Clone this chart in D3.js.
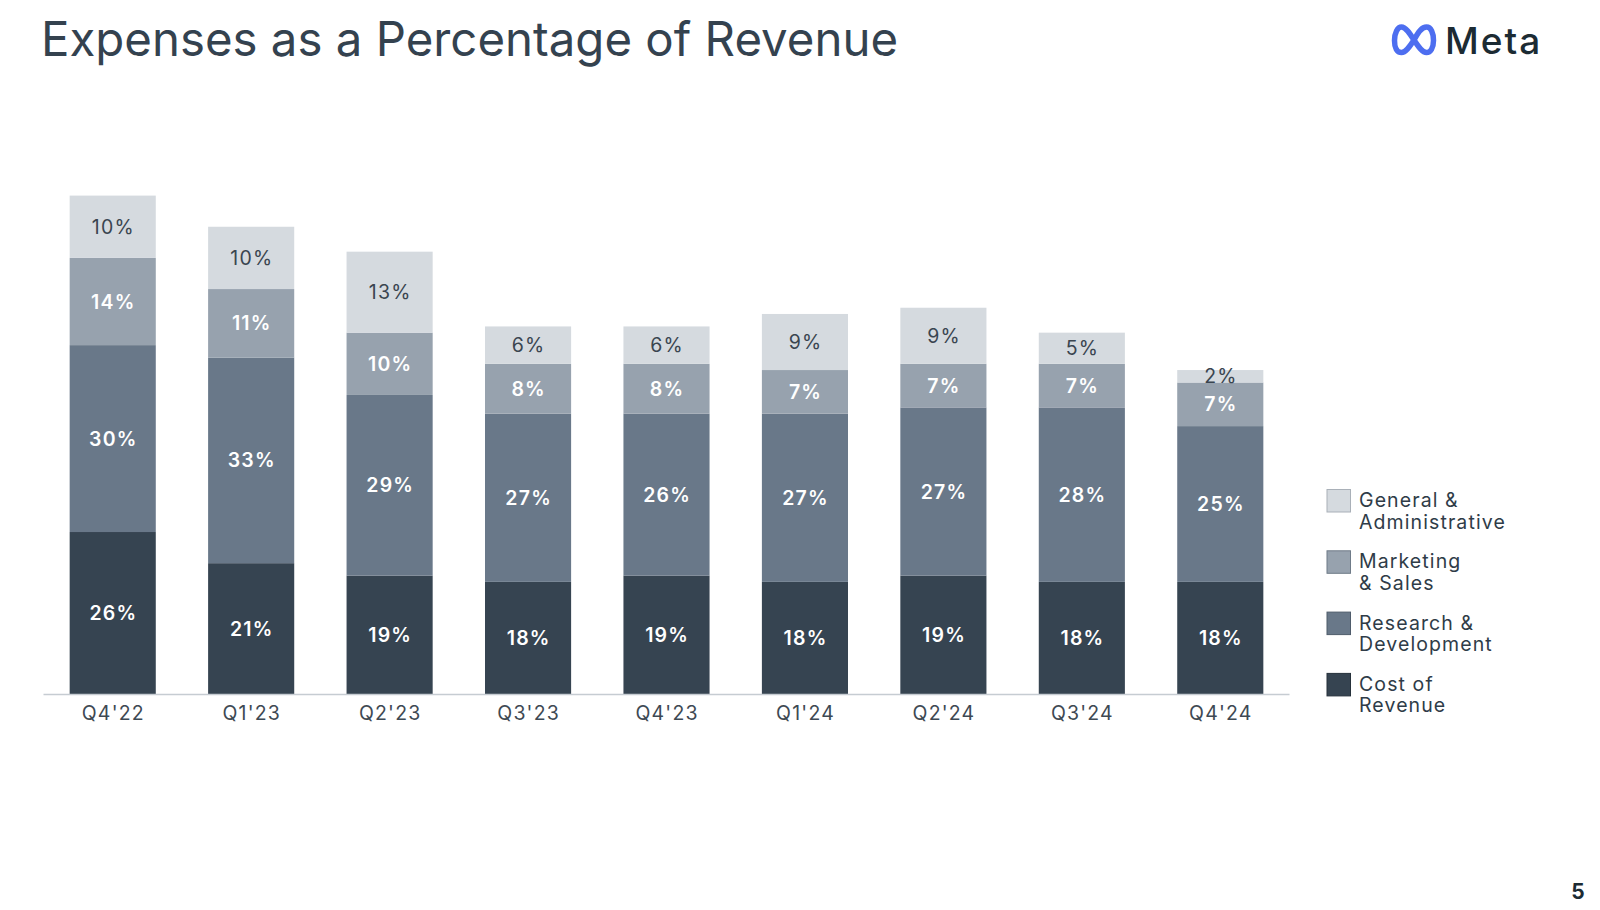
<!DOCTYPE html>
<html>
<head>
<meta charset="utf-8">
<script src="https://cdn.jsdelivr.net/npm/d3@7"></script>
<style>
  html, body { margin: 0; padding: 0; background: #ffffff; }
  svg { display: block; }
  text { font-family: Inter, "Noto Sans", sans-serif; }
</style>
</head>
<body>
<svg id="chart" width="1600" height="910"></svg>
<script>
// ---- data ----
const categories = ["Q4'22", "Q1'23", "Q2'23", "Q3'23", "Q4'23", "Q1'24", "Q2'24", "Q3'24", "Q4'24"];
const costOfRevenue = [26, 21, 19, 18, 19, 18, 19, 18, 18];
const researchDevelopment = [30, 33, 29, 27, 26, 27, 27, 28, 25];
const marketingSales = [14, 11, 10, 8, 8, 7, 7, 7, 7];
const generalAdmin = [10, 10, 13, 6, 6, 9, 9, 5, 2];
const seriesKeys = ["cor", "rd", "ms", "ga"];
const seriesNames = {
  cor: ["Cost of", "Revenue"],
  rd: ["Research &", "Development"],
  ms: ["Marketing", "& Sales"],
  ga: ["General &", "Administrative"]
};
const titleText = "Expenses as a Percentage of Revenue";

// ---- styles ----
const colors = { cor: "#364451", rd: "#697889", ms: "#97a2ae", ga: "#d5dadf" };
const strokeColors = { cor: "#26313b", rd: "#4f5c6b", ms: "#6f7b88", ga: "#a9b0b8" };
const labelColors = { cor: "#ffffff", rd: "#ffffff", ms: "#ffffff", ga: "#3a4550" };
const labelWeights = { cor: 600, rd: 600, ms: 600, ga: 400 };

const table = categories.map((c, i) => ({
  cat: c,
  cor: costOfRevenue[i],
  rd: researchDevelopment[i],
  ms: marketingSales[i],
  ga: generalAdmin[i]
}));

const svg = d3.select("#chart");

// title
const title = svg.append("text")
  .attr("x", 41).attr("y", 56)
  .attr("font-size", 48)
  .attr("fill", "#34424f")
  .text(titleText);
const tl = title.node().getComputedTextLength();
if (Math.abs(tl - 857) > 4) title.attr("textLength", 857).attr("lengthAdjust", "spacingAndGlyphs");

// Meta logo
const logo = svg.append("g").attr("transform", "translate(1392,24)");
logo.append("path")
  .attr("d", "M22,16 C26.5,7.5 30,3 34.5,3 C39,3 41.5,9 41.5,16.5 C41.5,24 38.5,28.5 34.5,28.5 C30.5,28.5 26.5,23 22,16 C17.5,9 13.5,3 9.5,3 C5.5,3 2.5,9 2.5,16.5 C2.5,24 5,28.5 9.5,28.5 C13.5,28.5 17.5,23 22,16 Z")
  .attr("fill", "none")
  .attr("stroke", "#4d6ef0")
  .attr("stroke-width", 5.5)
  .attr("stroke-linejoin", "round");
svg.append("text")
  .attr("x", 1445).attr("y", 54)
  .attr("font-size", 37)
  .attr("font-weight", 500)
  .attr("letter-spacing", 2)
  .attr("fill", "#1c2b33")
  .text("Meta");

// page number
svg.append("text")
  .attr("x", 1578).attr("y", 899)
  .attr("text-anchor", "middle")
  .attr("font-size", 21)
  .attr("font-weight", 700)
  .attr("fill", "#1c2b33")
  .text("5");

// scales
const x = d3.scaleBand()
  .domain(categories)
  .range([43.5, 1289.5])
  .paddingInner(0.378)
  .paddingOuter(0.189);
const y = d3.scaleLinear().domain([0, 80]).range([694, 195.6]);

const stack = d3.stack().keys(seriesKeys);
const stacked = stack(table);

const layers = svg.append("g").selectAll("g")
  .data(stacked)
  .join("g")
  .attr("fill", d => colors[d.key]);

layers.selectAll("rect")
  .data(d => d.map(v => Object.assign(v, { key: d.key })))
  .join("rect")
  .attr("x", d => x(d.data.cat))
  .attr("width", x.bandwidth())
  .attr("y", d => y(d[1]))
  .attr("height", d => y(d[0]) - y(d[1]));

// x axis baseline
svg.append("line")
  .attr("x1", x.range()[0]).attr("x2", x.range()[1])
  .attr("y1", y(0) + 0.5).attr("y2", y(0) + 0.5)
  .attr("stroke", "#c6ccd2")
  .attr("stroke-width", 1.5);

// category labels
svg.append("g").selectAll("text")
  .data(categories)
  .join("text")
  .attr("x", d => x(d) + x.bandwidth() / 2 + 0.6)
  .attr("y", 720)
  .attr("text-anchor", "middle")
  .attr("font-size", 19.5)
  .attr("letter-spacing", 1.2)
  .attr("fill", "#3e4953")
  .text(d => d);

// segment labels
const labels = svg.append("g");
stacked.forEach(layer => {
  labels.selectAll(null)
    .data(layer)
    .join("text")
    .attr("x", d => x(d.data.cat) + x.bandwidth() / 2 + 0.6)
    .attr("y", d => (y(d[0]) + y(d[1])) / 2)
    .attr("dy", "0.36em")
    .attr("text-anchor", "middle")
    .attr("font-size", 19.5)
    .attr("letter-spacing", 1.2)
    .attr("font-weight", labelWeights[layer.key])
    .attr("fill", labelColors[layer.key])
    .text(d => (d[1] - d[0]) + "%");
});

// legend
const legendOrder = ["ga", "ms", "rd", "cor"];
const legend = svg.append("g");
legendOrder.forEach((k, i) => {
  const top = 489.5 + i * 61.3;
  legend.append("rect")
    .attr("x", 1327).attr("y", top)
    .attr("width", 23.5).attr("height", 22.5)
    .attr("fill", colors[k])
    .attr("stroke", strokeColors[k])
    .attr("stroke-width", 1);
  const t = legend.append("text")
    .attr("x", 1359)
    .attr("y", top + 17.5)
    .attr("font-size", 19.5)
    .attr("letter-spacing", 1.1)
    .attr("fill", "#2f3c48");
  seriesNames[k].forEach((line, j) => {
    t.append("tspan").attr("x", 1359).attr("dy", j === 0 ? 0 : 21.5).text(line);
  });
});
</script>
</body>
</html>
